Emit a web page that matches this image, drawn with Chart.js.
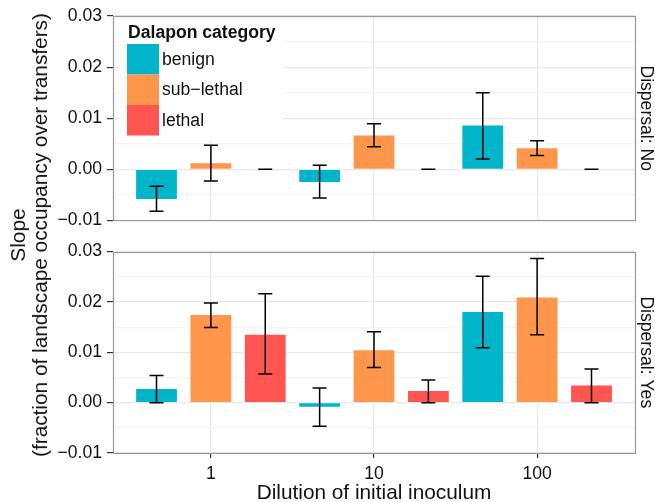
<!DOCTYPE html>
<html>
<head>
<meta charset="utf-8">
<script src="https://cdn.jsdelivr.net/npm/chart.js@4.4.1/dist/chart.umd.min.js"></script>
<style>
  body { margin: 0; background: #fff; }
  #wrap { position: relative; width: 655px; height: 502px; font-family: "Liberation Sans", Arial, sans-serif; color: #111; }
  canvas { position: absolute; left: 0; }
  #top { top: 0; }
  #bottom { top: 236px; }
  #ytitle { position: absolute; left: 29px; top: 235px; width: 0; height: 0; }
  #ytitle div { position: absolute; transform: translate(-50%, -50%) rotate(-90deg); white-space: nowrap; text-align: center; font-size: 20.8px; line-height: 22px; }
</style>
</head>
<body>
<div id="wrap">
  <canvas id="top" width="655" height="236"></canvas>
  <canvas id="bottom" width="655" height="266"></canvas>
  <div id="ytitle"><div>Slope<br>(fraction of landscape occupancy over transfers)</div></div>
</div>
<script>
// dilution of initial inoculum
const categories = ['1', '10', '100']
const seriesNames = ['benign', 'sub\u2212lethal', 'lethal']
const seriesColors = ['#00b4ca', '#fe964b', '#ff5551']
const yTicks = [-0.01, 0.00, 0.01, 0.02, 0.03]

// Dispersal: No
const benignNo = [-0.0058, -0.0025, 0.0086]
const benignNoLo = [-0.0082, -0.0056, 0.0020]
const benignNoHi = [-0.0033, 0.0008, 0.0150]
const subNo = [0.0012, 0.0066, 0.0041]
const subNoLo = [-0.0023, 0.0044, 0.0027]
const subNoHi = [0.0047, 0.0089, 0.0056]
const lethalNo = [0, 0, 0]
const lethalNoLo = [0, 0, 0]
const lethalNoHi = [0, 0, 0]

// Dispersal: Yes
const benignYes = [0.0027, -0.0008, 0.0180]
const benignYesLo = [0.0000, -0.0047, 0.0109]
const benignYesHi = [0.0054, 0.0029, 0.0251]
const subYes = [0.0174, 0.0104, 0.0209]
const subYesLo = [0.0149, 0.0070, 0.0135]
const subYesHi = [0.0198, 0.0141, 0.0286]
const lethalYes = [0.0135, 0.0023, 0.0034]
const lethalYesLo = [0.0057, 0.0000, 0.0000]
const lethalYesHi = [0.0216, 0.0045, 0.0067]

Chart.defaults.font.family = '"Liberation Sans", Arial, sans-serif'
Chart.defaults.color = '#111'

const MAJOR = '#e8e8e8'
const MINOR = '#f4f4f4'
const isMajor = v => Math.abs(Math.round(v * 200)) % 2 === 0

const errorBars = {
  id: 'errorBars',
  afterDatasetsDraw(chart) {
    const ctx = chart.ctx
    const y = chart.scales.y
    ctx.save()
    ctx.strokeStyle = '#000'
    ctx.lineWidth = 1.5
    chart.data.datasets.forEach((ds, di) => {
      chart.getDatasetMeta(di).data.forEach((bar, i) => {
        const lo = y.getPixelForValue(ds.lo[i])
        const hi = y.getPixelForValue(ds.hi[i])
        ctx.beginPath()
        ctx.moveTo(bar.x, lo); ctx.lineTo(bar.x, hi)
        ctx.moveTo(bar.x - 7, lo); ctx.lineTo(bar.x + 7, lo)
        ctx.moveTo(bar.x - 7, hi); ctx.lineTo(bar.x + 7, hi)
        ctx.stroke()
      })
    })
    ctx.restore()
  }
}

const panelBorder = {
  id: 'panelBorder',
  afterDraw(chart) {
    const a = chart.chartArea
    const ctx = chart.ctx
    ctx.save()
    ctx.strokeStyle = '#999'
    ctx.lineWidth = 1.2
    ctx.strokeRect(Math.round(a.left) + 0.5, Math.round(a.top) + 0.5, Math.round(a.right - a.left), Math.round(a.bottom - a.top))
    ctx.restore()
  }
}

const insideLegend = {
  id: 'insideLegend',
  afterDatasetsDraw(chart) {
    const ctx = chart.ctx
    ctx.save()
    ctx.fillStyle = '#fff'
    ctx.fillRect(121, 16, 162, 124)
    ctx.fillStyle = '#111'
    ctx.font = 'bold 17.6px "Liberation Sans", Arial, sans-serif'
    ctx.textBaseline = 'alphabetic'
    ctx.fillText('Dalapon category', 128, 38)
    ctx.font = '17.6px "Liberation Sans", Arial, sans-serif'
    ctx.textBaseline = 'middle'
    seriesNames.forEach((name, i) => {
      const top = 44 + i * 30.5
      ctx.fillStyle = seriesColors[i]
      ctx.fillRect(127, top, 32, 30.5)
      ctx.fillStyle = '#111'
      ctx.fillText(name, 162, top + 16)
    })
    ctx.restore()
  }
}

function makeSets(vals, los, his) {
  return vals.map((v, s) => ({
    label: seriesNames[s],
    data: categories.map((c, i) => ({ x: i + 1, y: v[i] })),
    lo: los[s],
    hi: his[s],
    backgroundColor: seriesColors[s],
    borderWidth: 0,
    barPercentage: 0.75,
    categoryPercentage: 1
  }))
}

function panel(id, datasets, strip, bottom) {
  const plugins = [errorBars, panelBorder]
  if (!bottom) plugins.push(insideLegend)
  return new Chart(document.getElementById(id), {
    type: 'bar',
    data: { datasets: datasets },
    plugins: plugins,
    options: {
      responsive: false,
      animation: false,
      layout: { padding: bottom ? { top: 12, bottom: 0, left: 0, right: 0 } : { top: 16, bottom: 15, left: 0, right: 0 } },
      plugins: { legend: { display: false }, tooltip: { enabled: false } },
      scales: {
        x: {
          type: 'linear',
          min: 0.4,
          max: 3.6,
          offset: false,
          afterBuildTicks: s => { s.ticks = categories.map((c, i) => ({ value: i + 1 })) },
          afterFit: s => { s.height = bottom ? 49 : 0 },
          grid: { offset: false, color: MAJOR, lineWidth: 1.2, drawTicks: bottom, tickLength: 5, tickColor: '#333', tickWidth: 1.2 },
          border: { display: false },
          ticks: {
            display: bottom,
            autoSkip: false,
            maxRotation: 0,
            padding: 6,
            font: { size: 17.6 },
            color: '#111',
            callback: v => categories[v - 1]
          },
          title: {
            display: bottom,
            text: 'Dilution of initial inoculum',
            font: { size: 20.8, lineHeight: 0.8 },
            color: '#111',
            padding: 0
          }
        },
        y: {
          min: yTicks[0],
          max: yTicks[yTicks.length - 1],
          afterFit: s => { s.width = 113 },
          grid: {
            color: c => isMajor(c.tick.value) ? MAJOR : MINOR,
            lineWidth: 1.2,
            tickLength: 6,
            tickWidth: 1.2,
            tickColor: c => isMajor(c.tick.value) ? '#333' : 'rgba(0,0,0,0)'
          },
          border: { display: false },
          ticks: {
            stepSize: 0.005,
            autoSkip: false,
            padding: 5,
            font: { size: 17.6 },
            color: '#111',
            callback: v => {
              if (!isMajor(v)) return ''
              const r = Math.round(v * 100) / 100
              return (Math.abs(r) < 1e-9 ? 0 : r).toFixed(2).replace('-', '\u2212')
            }
          }
        },
        strip: {
          type: 'linear',
          position: 'right',
          min: 0,
          max: 1,
          afterFit: s => { s.width = 20 },
          grid: { display: false },
          border: { display: false },
          ticks: { display: false },
          title: { display: true, text: strip, font: { size: 17.6, lineHeight: 1 }, color: '#111', padding: 0 }
        }
      }
    }
  })
}

panel('top', makeSets([benignNo, subNo, lethalNo], [benignNoLo, subNoLo, lethalNoLo], [benignNoHi, subNoHi, lethalNoHi]), 'Dispersal: No', false)
panel('bottom', makeSets([benignYes, subYes, lethalYes], [benignYesLo, subYesLo, lethalYesLo], [benignYesHi, subYesHi, lethalYesHi]), 'Dispersal: Yes', true)
</script>
</body>
</html>
